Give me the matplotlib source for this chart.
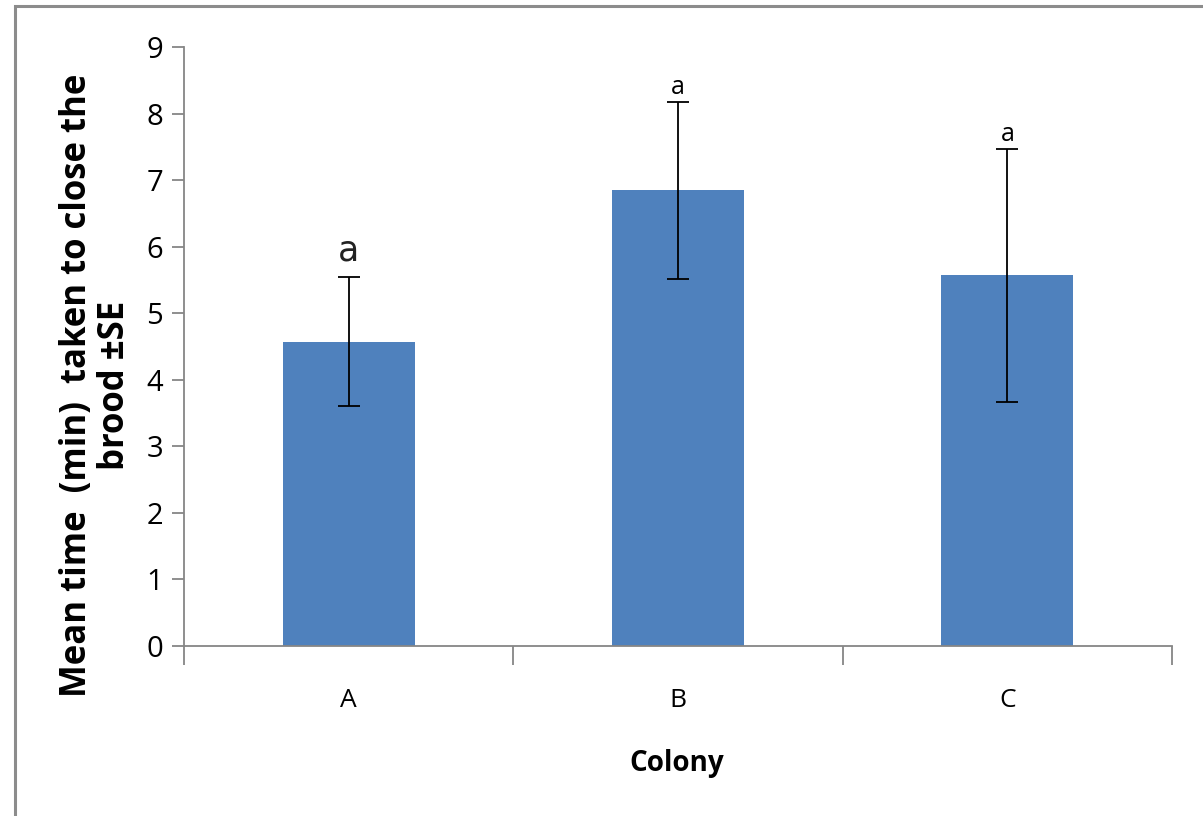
import matplotlib
matplotlib.use("Agg")
import matplotlib.pyplot as plt
from matplotlib.patches import Rectangle
import numpy as np

categories = ["A", "B", "C"]
means = [4.57, 6.85, 5.57]
se = [0.97, 1.33, 1.90]
letters = ["a", "a", "a"]

W, H = 1203, 816
fig = plt.figure(figsize=(W / 100, H / 100), dpi=100)
# figure frame
fig.patches.append(Rectangle((15 / W, -0.1), 1.2, 1 - 6 / H + 0.1, transform=fig.transFigure,
                             fill=False, edgecolor="#8c8c8c", linewidth=2.2))

ax = fig.add_axes([184 / W, 1 - 646 / H, (1172 - 184) / W, (646 - 47) / H])
x = np.arange(len(categories))
gray = "#868686"
ax.bar(x, means, width=0.4, color="#4F81BD", zorder=2)
ax.errorbar(x, means, yerr=se, fmt="none", ecolor="black", elinewidth=1.3,
            capsize=8, capthick=1.3, zorder=3)

ax.set_xlim(-0.5, 2.5)
ax.set_ylim(0, 9)
ax.set_yticks(range(10))
ax.set_xticks(x)
ax.set_xticklabels(categories)
ax.set_xticks([-0.5, 0.5, 1.5, 2.5], minor=True)
ax.tick_params(axis="x", which="major", length=0, pad=30, labelsize=19)
ax.tick_params(axis="x", which="minor", length=14, width=1.3, color=gray, direction="out")
ax.tick_params(axis="y", length=9, width=1.3, color=gray, labelsize=21, pad=6)
for lbl in ax.get_xticklabels() + ax.get_yticklabels():
    lbl.set_fontfamily("Open Sans")
for s in ["top", "right"]:
    ax.spines[s].set_visible(False)
for s in ["left", "bottom"]:
    ax.spines[s].set_color(gray)
    ax.spines[s].set_linewidth(1.3)

# significance letters
ax.text(x[0], means[0] + se[0] + 0.15, letters[0], ha="center", va="bottom",
        fontsize=25, family="DejaVu Sans", color="#222222")
for i in (1, 2):
    ax.text(x[i], means[i] + se[i] + 0.02, letters[i], ha="center", va="bottom",
            fontsize=18, family="Open Sans", color="black")

fig.text(677 / W, 1 - 763 / H, "Colony", ha="center", va="center",
         fontsize=20, fontweight="bold", family="Open Sans")
fig.text(96 / W, 1 - 385 / H, "Mean time  (min)  taken to close the\nbrood \u00b1SE",
         ha="center", va="center", rotation=90, fontsize=25, fontweight="bold",
         family="Open Sans", linespacing=1.1)

fig.savefig("out.png", dpi=100)
